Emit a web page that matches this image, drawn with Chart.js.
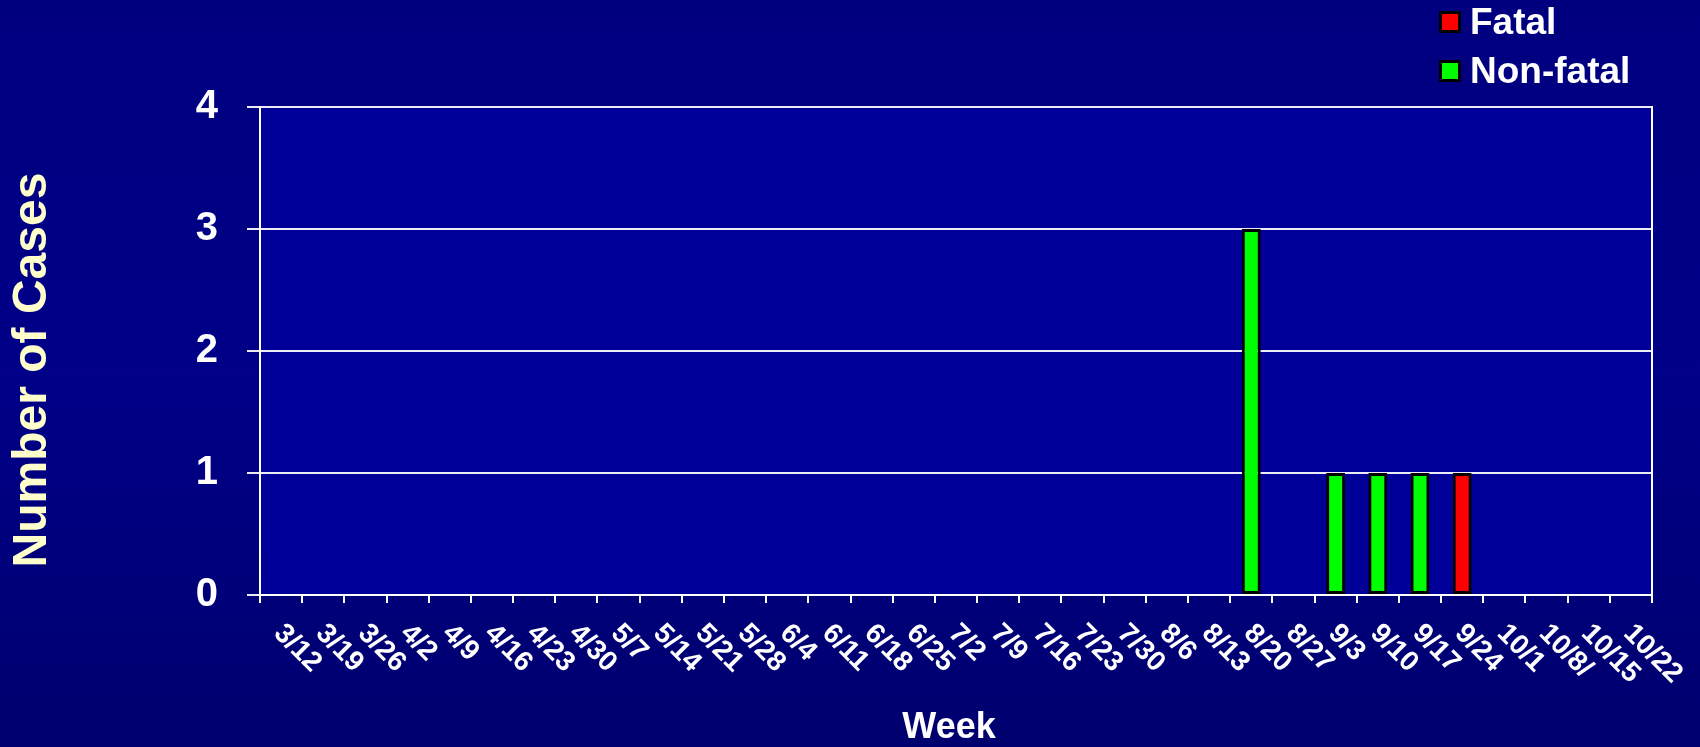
<!DOCTYPE html>
<html>
<head>
<meta charset="utf-8">
<style>
html,body{margin:0;padding:0;background:#000080;overflow:hidden}
canvas{display:block}
</style>
<script src="https://cdn.jsdelivr.net/npm/chart.js@4.4.1/dist/chart.umd.min.js"></script>
</head>
<body>
<canvas id="c" width="1700" height="747"></canvas>
<script>
// ---- data ----
const weeks = ['3/12','3/19','3/26','4/2','4/9','4/16','4/23','4/30','5/7','5/14','5/21','5/28',
  '6/4','6/11','6/18','6/25','7/2','7/9','7/16','7/23','7/30','8/6','8/13','8/20','8/27',
  '9/3','9/10','9/17','9/24','10/1','10/8/','10/15','10/22'];
const fatal    = [0,0,0,0,0,0,0,0,0,0, 0,0,0,0,0,0,0,0,0,0, 0,0,0,0,0,0,0,0,1,0, 0,0,0];
const nonFatal = [0,0,0,0,0,0,0,0,0,0, 0,0,0,0,0,0,0,0,0,0, 0,0,0,3,0,1,1,1,0,0, 0,0,0];
const yTickValues = [0,1,2,3,4];
const seriesNames = ['Fatal','Non-fatal'];
const seriesColors = ['#FF0000','#00FF00'];

const FONT = '"Liberation Sans", Arial, Helvetica, sans-serif';
Chart.defaults.font.family = FONT;
Chart.defaults.font.weight = 'bold';

function shiftTitle(scale, dx, dy) {
  if (scale.__shifted) return;
  const orig = scale.drawTitle;
  scale.drawTitle = function () {
    this.ctx.save();
    this.ctx.translate(dx, dy);
    orig.apply(this, arguments);
    this.ctx.restore();
  };
  scale.__shifted = true;
}

const bgPlugin = {
  id: 'bg',
  beforeDraw(chart) {
    const {ctx, chartArea: a, width, height} = chart;
    ctx.save();
    const g = ctx.createLinearGradient(0, 0, 0, height);
    g.addColorStop(0, '#00007f');
    g.addColorStop(0.5, '#000088');
    g.addColorStop(1, '#00006e');
    ctx.fillStyle = g;
    ctx.fillRect(0, 0, width, height);
    ctx.fillStyle = '#000099';
    ctx.fillRect(a.left, a.top, a.right - a.left, a.bottom - a.top);
    ctx.restore();

    // x tick labels: rotate clockwise, starting at the category centre
    const xs = chart.scales.x;
    const items = xs.getLabelItems();
    items.forEach((it, i) => {
      const px = xs.getPixelForTick(i);
      it.options.rotation = Math.PI / 4;
      it.options.textAlign = 'left';
      it.options.textBaseline = 'middle';
      it.options.translation = [px - 3, 629];
      it.textOffset = 0;
    });
    shiftTitle(chart.scales.y, 0, 19);
    shiftTitle(xs, -7, 0);
  }
};

const legendPlugin = {
  id: 'colLegend',
  afterDraw(chart) {
    const ctx = chart.ctx;
    const rows = [22, 71];
    ctx.save();
    chart.data.datasets.forEach((ds, i) => {
      const y = rows[i];
      ctx.fillStyle = '#000000';
      ctx.fillRect(1439, y - 11, 22, 22);
      ctx.fillStyle = ds.backgroundColor;
      ctx.fillRect(1442, y - 8, 16, 16);
      ctx.fillStyle = '#FFFFFF';
      ctx.font = 'bold 37px ' + FONT;
      ctx.textAlign = 'left';
      ctx.textBaseline = 'middle';
      ctx.fillText(ds.label, 1470, y + 1.5);
    });
    ctx.restore();
  }
};

new Chart(document.getElementById('c'), {
  type: 'bar',
  data: {
    labels: weeks,
    datasets: [
      {label: seriesNames[0], data: fatal, backgroundColor: seriesColors[0],
       borderColor: '#000000', borderWidth: 3, borderSkipped: false},
      {label: seriesNames[1], data: nonFatal, backgroundColor: seriesColors[1],
       borderColor: '#000000', borderWidth: 3, borderSkipped: false}
    ]
  },
  options: {
    responsive: false,
    animation: false,
    events: [],
    devicePixelRatio: 1,
    layout: {padding: {top: 107, right: 48, bottom: 0, left: 0}},
    datasets: {bar: {barPercentage: 0.45, categoryPercentage: 1.0}},
    plugins: {legend: {display: false}, tooltip: {enabled: false}},
    scales: {
      x: {
        stacked: true,
        offset: true,
        grid: {display: true, drawOnChartArea: false, drawTicks: true, tickLength: 8,
               color: '#FFFFFF', lineWidth: 2, offset: true},
        border: {display: true, color: '#FFFFFF', width: 2},
        ticks: {color: '#FFFFFF', font: {size: 28, weight: 'bold'}, autoSkip: false,
                minRotation: 45, maxRotation: 45, padding: 4},
        title: {display: true, text: 'Week', color: '#FFFFFF',
                font: {size: 36, weight: 'bold', lineHeight: 1}, padding: {top: 0, bottom: 1}},
        afterFit(s) { s.height = 152; }
      },
      y: {
        stacked: true,
        min: 0, max: 4,
        afterBuildTicks(s) { s.ticks = yTickValues.map(v => ({value: v})); },
        grid: {color: 'rgba(255,255,255,0.92)', lineWidth: 2, tickLength: 13, drawTicks: true},
        border: {display: true, color: '#FFFFFF', width: 2},
        ticks: {color: '#FFFFFF', font: {size: 40, weight: 'bold'}, padding: 29},
        title: {display: true, text: 'Number of Cases', color: '#FFFFCC',
                font: {size: 48, weight: 'bold', lineHeight: 1}, padding: {top: 9, bottom: 0}},
        afterFit(s) { s.width = 260; }
      },
      y2: {
        type: 'linear',
        position: 'right',
        display: true,
        grid: {display: false},
        ticks: {display: false},
        border: {display: true, color: '#FFFFFF', width: 2},
        afterFit(s) { s.width = 0; }
      }
    }
  },
  plugins: [bgPlugin, legendPlugin]
});
</script>
</body>
</html>
